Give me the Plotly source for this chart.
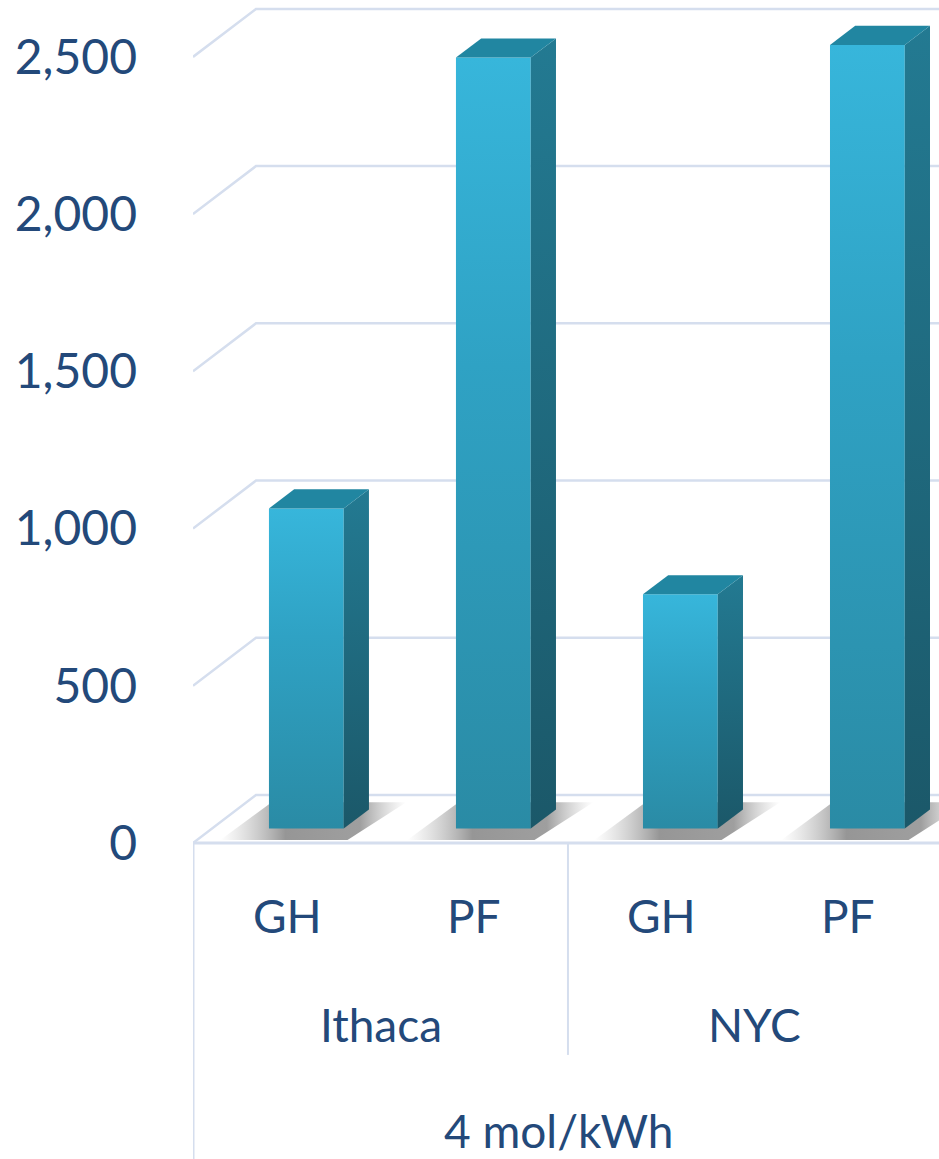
import plotly.graph_objects as go

# ---- data ----
cities = ["Ithaca", "Ithaca", "NYC", "NYC"]
systems = ["GH", "PF", "GH", "PF"]
values = [1018, 2452, 745, 2492]
group_label = "4 mol/kWh"
y_ticks = [0, 500, 1000, 1500, 2000, 2500]

# ---- geometry (axis units) ----
X_MIN, X_MAX = -0.505, 3.484
Y_MIN, Y_MAX = -1005, 2681
DX, DY = 0.337, 152.7          # depth offset of the back wall
HALF = 0.2                     # half bar width
DF, DB = 0.3, 0.7              # bar front / back depth fraction

GRID = "#D5DEEE"
TXT = "#23497A"
FONT = "Lato"

fig = go.Figure()

def poly(xs, ys, **kw):
    fig.add_trace(go.Scatter(x=xs + [xs[0]], y=ys + [ys[0]], mode="lines",
                             fill="toself", line=dict(width=0), hoverinfo="skip",
                             showlegend=False, **kw))

def line(xs, ys, color=GRID, width=2.5):
    fig.add_trace(go.Scatter(x=xs, y=ys, mode="lines", hoverinfo="skip",
                             line=dict(color=color, width=width), showlegend=False))

# back-wall gridlines and left-wall diagonals
for v in y_ticks:
    line([X_MIN, X_MIN + DX, X_MAX], [v, v + DY, v + DY])

# floor front edge and axis frame
line([X_MIN, X_MAX], [0, 0], width=3)
line([X_MIN, X_MIN], [0, Y_MIN], width=3)
line([1.5, 1.5], [0, -674], width=2)

# bars
for i, v in enumerate(values):
    xl = i + DF * DX - HALF
    xr = i + DF * DX + HALF
    yb = DF * DY
    d = (DB - DF)
    # soft shadow on the floor
    poly([xl - 0.26, xr + 0.02, xr + d * DX + 0.2, xl + d * DX - 0.12],
         [0.06 * DY, 0.06 * DY, 0.85 * DY, 0.85 * DY],
         fillgradient=dict(type="horizontal",
                           colorscale=[[0, "rgba(140,140,140,0)"],
                                       [0.2, "rgba(110,110,110,0.35)"],
                                       [0.35, "rgba(80,80,80,0.6)"],
                                       [0.75, "rgba(80,80,80,0.55)"],
                                       [1, "rgba(140,140,140,0)"]]))
    # front face
    poly([xl, xr, xr, xl], [yb, yb, v + yb, v + yb],
         fillgradient=dict(type="vertical",
                           colorscale=[[0, "#2A8BA5"], [0.6, "#2FA2C4"], [1, "#37B6DB"]]))
    # side face
    poly([xr, xr + d * DX, xr + d * DX, xr],
         [yb, DB * DY, v + DB * DY, v + yb],
         fillgradient=dict(type="vertical",
                           colorscale=[[0, "#1B5869"], [1, "#237A92"]]))
    # top face
    poly([xl, xr, xr + d * DX, xl + d * DX],
         [v + yb, v + yb, v + DB * DY, v + DB * DY],
         fillcolor="#2186A1")

# category labels
ann = []
for i, s in enumerate(systems):
    ann.append(dict(x=i, y=-229, text=s, showarrow=False, xref="x", yref="y",
                    font=dict(family=FONT, size=46, color=TXT)))
for c, xc in [("Ithaca", 0.5), ("NYC", 2.5)]:
    ann.append(dict(x=xc, y=-576, text=c, showarrow=False, xref="x", yref="y",
                    font=dict(family=FONT, size=46, color=TXT)))
ann.append(dict(x=1.45, y=-913, text=group_label, showarrow=False, xref="x", yref="y",
                font=dict(family=FONT, size=46, color=TXT)))

fig.update_layout(
    width=939, height=1159,
    margin=dict(l=193, r=0, t=0, b=0),
    paper_bgcolor="white", plot_bgcolor="white",
    annotations=ann,
    xaxis=dict(range=[X_MIN, X_MAX], visible=False, fixedrange=True),
    yaxis=dict(range=[Y_MIN, Y_MAX], tickvals=y_ticks, tickformat=",",
               showgrid=False, zeroline=False, showline=False, ticks="",
               ticklabelstandoff=55, fixedrange=True,
               tickfont=dict(family=FONT, size=48, color=TXT)),
)

fig.write_html("out.html", config={"displayModeBar": False},
               post_script="document.body.style.margin='0';")
